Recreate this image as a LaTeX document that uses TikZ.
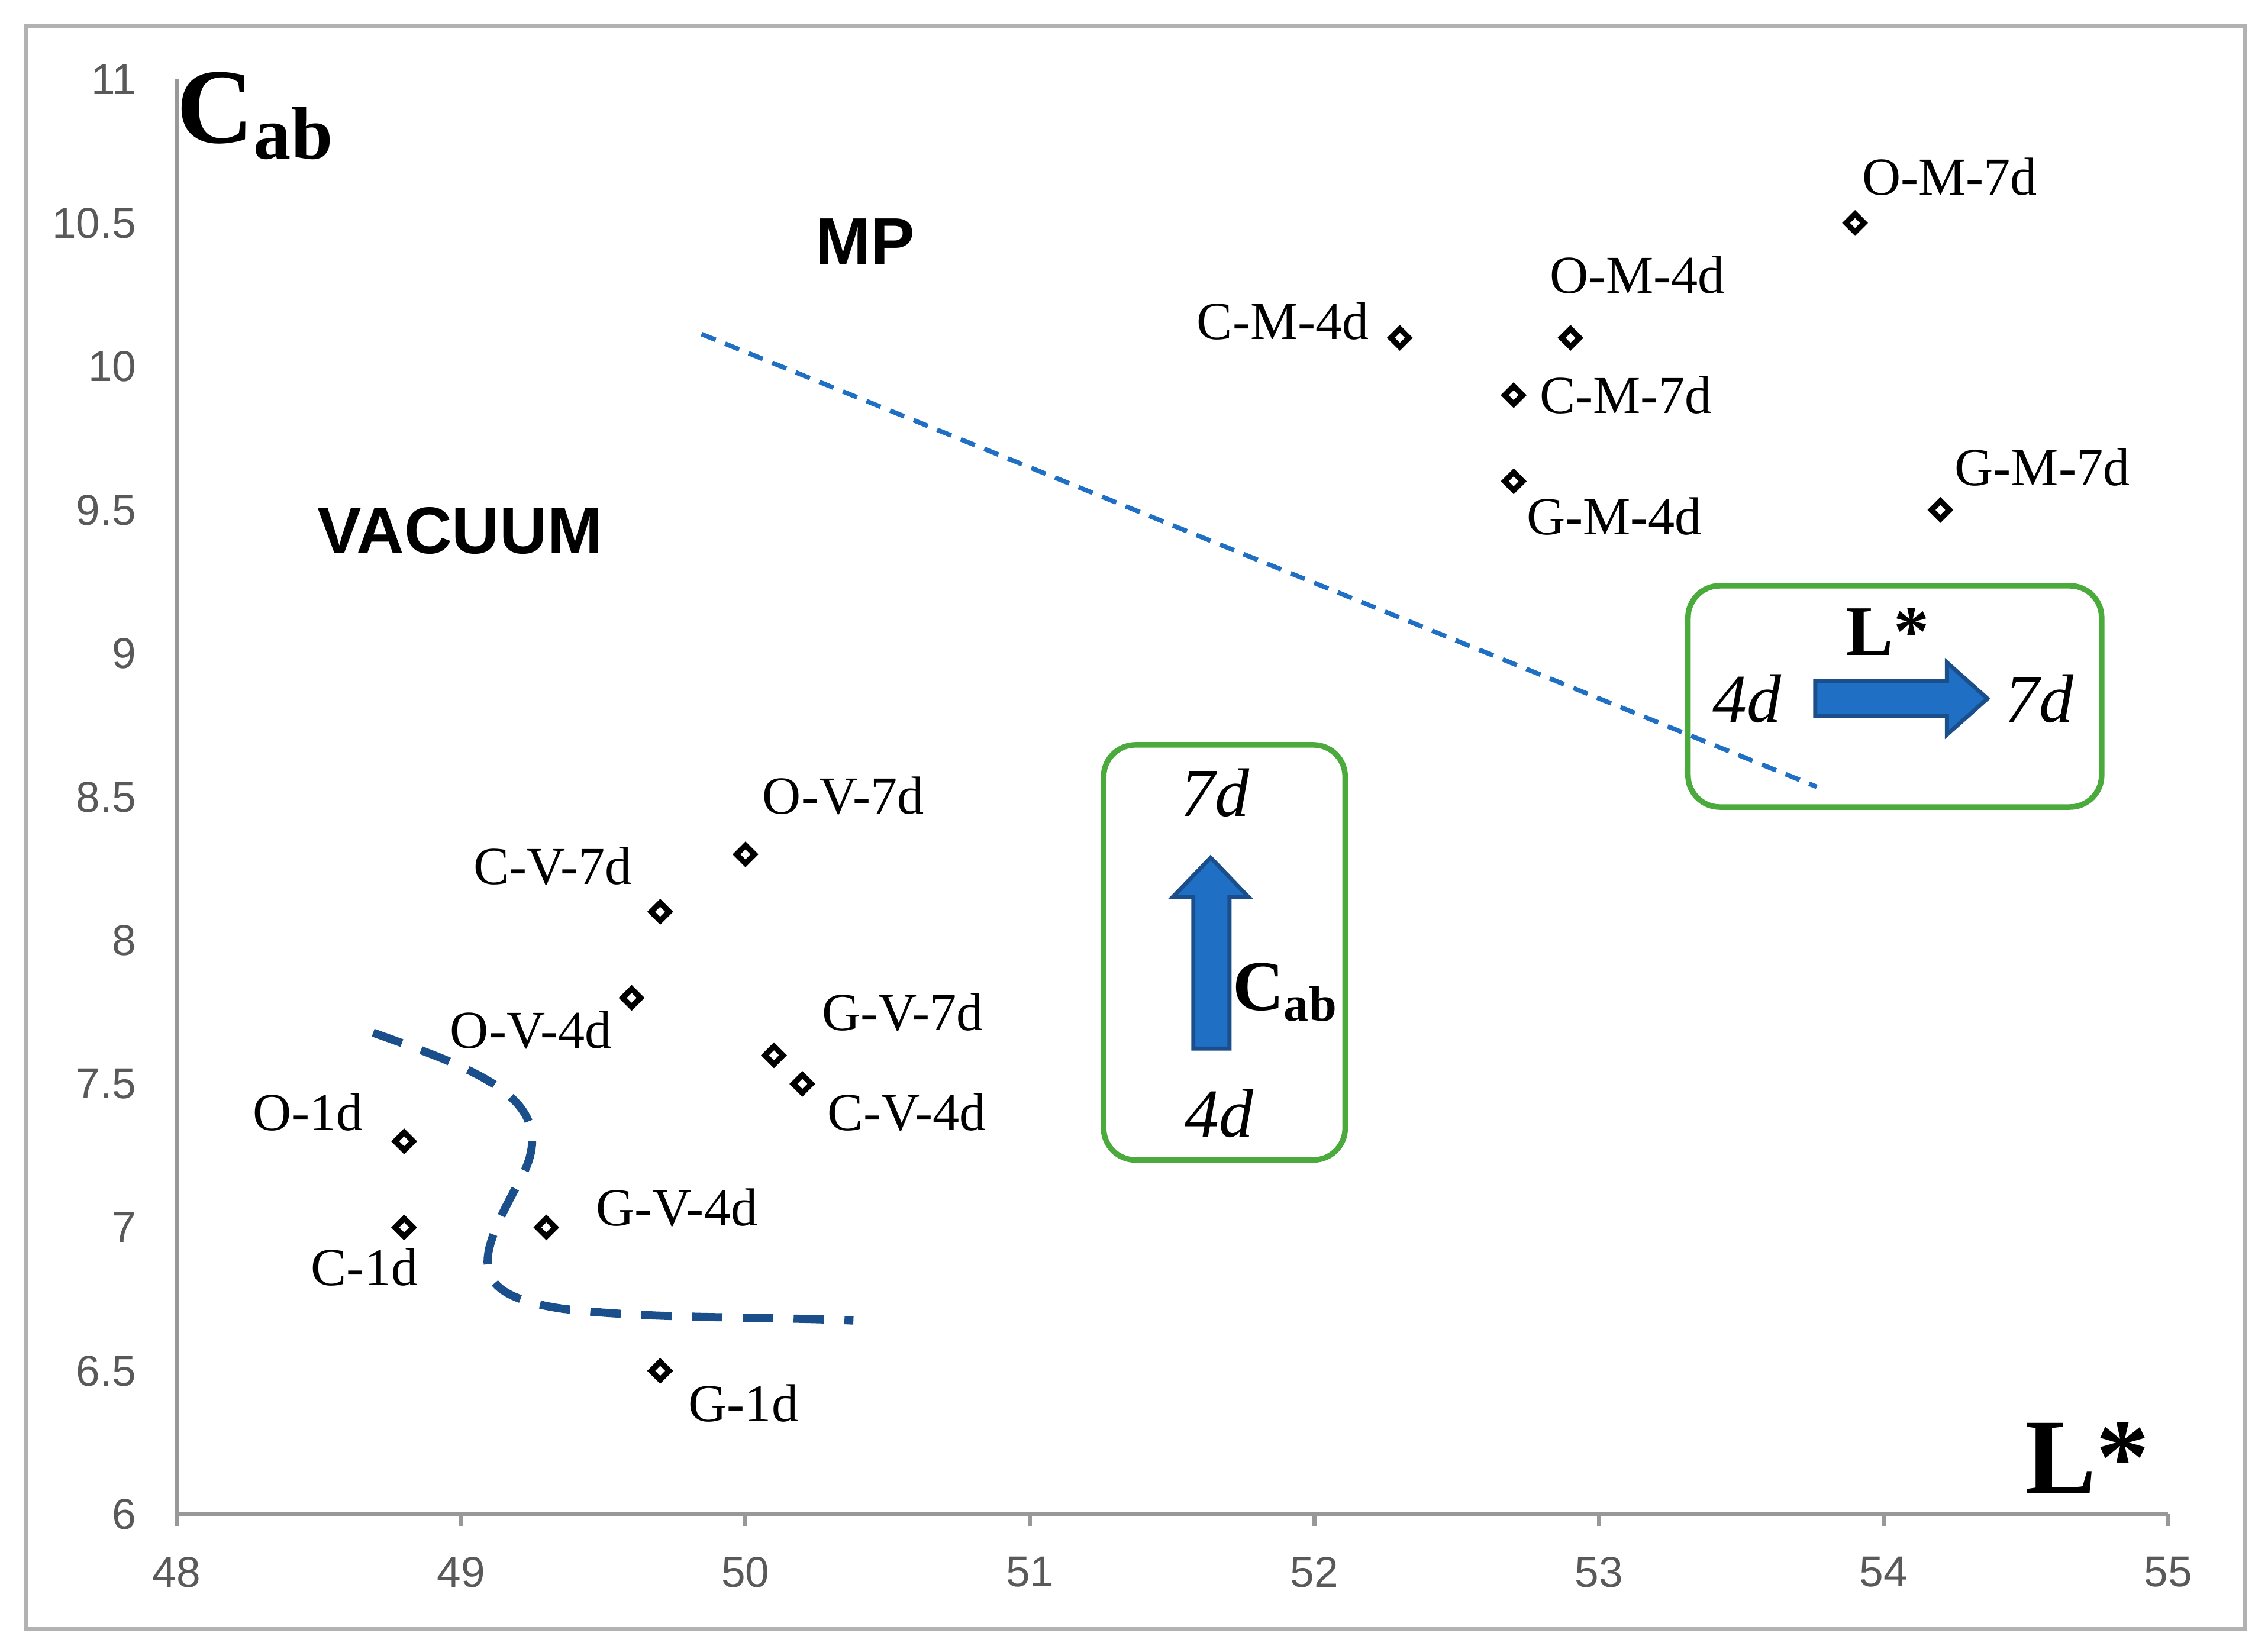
\documentclass[tikz,border=0pt]{standalone}
\usepackage{fontspec}
\setmainfont{Liberation Serif}
\newfontfamily\sansf{Liberation Sans}
\usetikzlibrary{shapes.geometric}
\definecolor{axg}{HTML}{7F7F7F}
\definecolor{tickc}{HTML}{595959}
\definecolor{arrf}{HTML}{1F6FC5}
\definecolor{arrd}{HTML}{1B4F8C}
\definecolor{dash1}{HTML}{1F6FC5}
\definecolor{dash2}{HTML}{1B4F8C}
\definecolor{boxg}{HTML}{4BAA3C}
\tikzset{
 pt/.style={diamond,draw=black,fill=white,line width=1.1pt,inner sep=0pt,minimum size=0.14cm},
 lab/.style={font=\fontsize{10.5}{12}\selectfont,inner sep=0pt},
 tk/.style={font=\sansf\fontsize{8.5}{10}\selectfont,text=tickc,inner sep=0pt},
 gbox/.style={draw=boxg,line width=1.1pt,rounded corners=0.22cm},
 big/.style={font=\fontsize{13.5}{15}\selectfont\itshape,inner sep=0pt},
 reg/.style={font=\sansf\bfseries\fontsize{13}{15}\selectfont,inner sep=0pt},
 barr/.style={fill=arrf,draw=arrd,line width=0.8pt}
}
\begin{document}
\begin{tikzpicture}[x=0.01cm,y=-0.01cm]
\useasboundingbox (0,0) rectangle (1568,1140);
\draw[axg!60,line width=0.8pt] (18,18) rectangle (1552,1126);
% axes
\draw[axg!80,line width=0.8pt] (122,55) -- (122,1047) -- (1499,1047);
\foreach \i/\v in {0/48,1/49,2/50,3/51,4/52,5/53,6/54,7/55}{
 \draw[axg!80,line width=0.8pt] ({122+196.7*\i},1047) -- ({122+196.7*\i},1055);
 \node[tk] (xt\v) at ({122+196.7*\i},1087) {\v};}
\foreach \i/\v in {0/6,1/6.5,2/7,3/7.5,4/8,5/8.5,6/9,7/9.5,8/10,9/10.5,10/11}{
 \node[tk,anchor=east] (yt\i) at (95,{1047-99.2*\i}) {\v};}
\node[font=\fontsize{21}{24}\selectfont\bfseries,inner sep=0pt] (ycap) at (177,80) {C\textsubscript{ab}};
\node[font=\fontsize{21}{24}\selectfont\bfseries,inner sep=0pt] (xcap) at (1443,1008) {L*};
\node[reg] (mp) at (598,167) {MP};
\node[reg] (vac) at (318,367) {VACUUM};
% dashed lines
\coordinate (d1) at (485,231); \coordinate (d2) at (1256,544);
\draw[dash1,dashed,line width=0.9pt,dash pattern=on 3pt off 2pt] (d1) -- (d2);
\draw[dash2,line width=1.6pt,dash pattern=on 6pt off 4pt] (258,714) .. controls (330,740) and (390,760) .. (360,815) .. controls (330,870) and (320,895) .. (390,905) .. controls (450,912) and (520,910) .. (590,913);
% points
\foreach \n/\x/\y in {o1/279.4/789.1,c1/279.4/848.6,g1/456.4/947.8,gv4/377.7/848.6,ov4/436.7/689.9,cv7/456.4/630.4,ov7/515.4/590.7,gv7/535.1/729.6,cv4/554.7/749.4,cm4/967.8/233.6,om4/1085.8/233.6,cm7/1046.5/273.2,gm4/1046.5/332.8,om7/1282.5/154.2,gm7/1341.5/352.6}
 \node[pt] (\n) at (\x,\y) {};
\node[lab] at (1348,122) {O-M-7d};
\node[lab] at (1132,190) {O-M-4d};
\node[lab] at (887,222) {C-M-4d};
\node[lab] at (1124,273) {C-M-7d};
\node[lab] at (1116,357) {G-M-4d};
\node[lab] at (1412,323) {G-M-7d};
\node[lab] at (583,550) {O-V-7d};
\node[lab] at (382,599) {C-V-7d};
\node[lab] at (367,712) {O-V-4d};
\node[lab] at (624,700) {G-V-7d};
\node[lab] at (627,769) {C-V-4d};
\node[lab] at (213,769) {O-1d};
\node[lab] at (252,876) {C-1d};
\node[lab] at (468,835) {G-V-4d};
\node[lab] at (514,970) {G-1d};
% box 1
\draw[gbox] (763,515) rectangle (930,802);
\node[big] (b7) at (840,548) {7d};
\node[big] (b4) at (843,770) {4d};
\draw[barr] (825,725) -- (825,620) -- (811,620) -- (837,593) -- (863,620) -- (850,620) -- (850,725) -- cycle;
\node[font=\fontsize{14}{16}\selectfont\bfseries,inner sep=0pt] (bc) at (889,686) {C\textsubscript{ab}};
% box 2
\draw[gbox] (1167,405) rectangle (1453,558);
\node[big] (r4) at (1208,483) {4d};
\node[big] (r7) at (1410,483) {7d};
\node[font=\fontsize{14}{16}\selectfont\bfseries,inner sep=0pt] (rl) at (1305,437) {L*};
\draw[barr] (1255,471) -- (1346,471) -- (1346,458) -- (1374,483) -- (1346,508) -- (1346,495) -- (1255,495) -- cycle;
\end{tikzpicture}
\end{document}
